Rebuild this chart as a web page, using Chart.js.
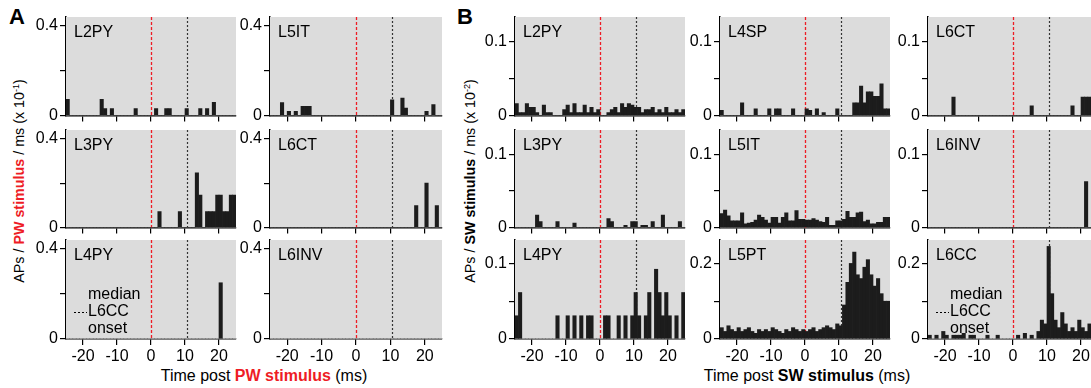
<!DOCTYPE html>
<html>
<head>
<meta charset="utf-8">
<script src="https://cdn.jsdelivr.net/npm/chart.js@4.4.1/dist/chart.umd.min.js"></script>
<style>
  body { margin:0; width:1091px; height:388px; overflow:hidden; background:#fff; position:relative;
         font-family:"Liberation Sans", Arial, sans-serif; color:#000; }
  canvas { position:absolute; }
  .big { position:absolute; font-size:22px; font-weight:bold; }
  .ytitle { position:absolute; white-space:nowrap; font-size:14.3px; transform:translate(-50%,-50%) rotate(-90deg); }
  .xtitle { position:absolute; white-space:nowrap; font-size:16px; transform:translate(-50%,-50%); }
  .red { color:#ee1c25; font-weight:bold; }
  sup { font-size:9px; }
</style>
</head>
<body>

<div class="big" style="left:9px;top:4px">A</div>
<div class="big" style="left:457px;top:4px">B</div>
<div class="ytitle" style="left:19px;top:181px">APs / <span class="red">PW stimulus</span> / ms (x 10<sup>-1</sup>)</div>
<div class="ytitle" style="left:470px;top:181px">APs / <b>SW stimulus</b> / ms (x 10<sup>-2</sup>)</div>
<div class="xtitle" style="left:264px;top:376px">Time post <span class="red">PW stimulus</span> (ms)</div>
<div class="xtitle" style="left:807px;top:376px">Time post <b>SW stimulus</b> (ms)</div>

<script>
// 1 ms bins, left edges
const binStart = [-25,-24,-23,-22,-21,-20,-19,-18,-17,-16,-15,-14,-13,-12,-11,-10,-9,-8,-7,-6,-5,-4,-3,-2,-1,
                  0,1,2,3,4,5,6,7,8,9,10,11,12,13,14,15,16,17,18,19,20,21,22,23,24];
const xTicks = [-20, -10, 0, 10, 20];
const stimOnset = 0;
const l6ccOnset = 10.5;

// Panel A (PW stimulus)
const a_L2PY = [.072,0,0,0,0,0,0,0,0,0,  .072,.03,0,.03,0,0,0,0,0,0,  .03,0,0,0,0,0,.03,0,0,.03,
                .03,0,0,0,0,.03,0,0,0,.03,  0,.03,0,.058,0,0,0,0,0,0];
const a_L5IT = [0,0,0,.057,0,.018,0,.018,0,.04,  .04,.04,0,0,0,0,0,0,0,0,  0,0,0,0,0,0,0,0,0,0,
                0,0,0,0,0,.07,0,0,.077,.033,  0,0,0,0,0,.018,0,.048,0,0];
const a_L3PY = [0,0,0,0,0,0,0,0,0,0,  0,0,0,0,0,0,0,0,0,0,  0,0,0,0,0,0,0,.072,0,0,
                0,0,0,.072,0,0,0,0,.246,.146,  0,.072,.072,.072,.146,.146,.072,.072,.146,.146];
const a_L6CT = [0,0,0,0,0,0,0,0,0,0,  0,0,0,0,0,0,0,0,0,0,  0,0,0,0,0,0,0,0,0,0,
                0,0,0,0,0,0,0,0,0,0,  0,0,.099,0,0,.2,0,0,.099,0];
const a_L4PY = [0,0,0,0,0,0,0,0,0,0,  0,0,0,0,0,0,0,0,0,0,  0,0,0,0,0,0,0,0,0,0,
                0,0,0,0,0,0,0,0,0,0,  0,0,0,0,0,.25,0,0,0,0];
const a_L6INV = [0,0,0,0,0,0,0,0,0,0,  0,0,0,0,0,0,0,0,0,0,  0,0,0,0,0,0,0,0,0,0,
                 0,0,0,0,0,0,0,0,0,0,  0,0,0,0,0,0,0,0,0,0];

// Panel B (SW stimulus)
const b_L2PY = [.016,.004,.004,.016,.011,.011,.004,0,.014,.004,  .004,0,0,0,.008,.014,.004,.016,.004,.004,
                .014,.004,.011,.004,.008,0,0,.004,.008,.011,  .004,.016,.011,.016,.014,.011,.011,.004,.008,.008,
                .011,.004,.008,.004,.011,.004,.004,.008,.004,.008];
const b_L4SP = [.007,0,0,0,0,0,.017,0,0,0,  .009,0,0,0,.009,0,.009,.009,0,0,  0,.009,0,0,0,.009,.007,0,.009,0,
                .004,0,0,0,.009,0,0,0,0,.017,  .017,.040,.017,.032,.032,.026,.026,.043,.009,.009];
const b_L6CT = [0,0,0,0,0,0,0,.025,0,0,  0,0,0,0,0,0,0,0,0,0,  0,0,0,0,0,0,0,0,0,0,
                .013,0,0,0,0,0,0,0,0,0,  0,0,.013,0,0,.025,.025,.025,.025,.025];
const b_L3PY = [0,0,0,0,0,0,.017,.008,0,0,  0,0,.008,0,0,0,0,.006,0,0,  0,0,0,0,0,0,0,.012,.008,0,
                0,0,.003,0,.008,.008,0,.003,.003,0,  .008,0,0,.017,0,0,0,0,.008,0];
const b_L5IT = [.019,.024,.016,.009,.009,.009,.02,.005,.006,.007,  .01,.017,.014,.01,.006,.014,.014,.006,.014,.02,
                .009,.009,.023,.011,.011,.01,.01,.012,.01,.008,  .007,.014,.003,.003,.009,.009,.011,.022,.014,.014,
                .02,.021,.008,.01,.005,.005,.007,.007,.014,.014];
const b_L6INV = [0,0,0,0,0,0,0,0,0,0,  0,0,0,0,0,0,0,0,0,0,  0,0,0,0,0,0,0,0,0,0,
                 0,0,0,0,0,0,0,0,0,0,  0,0,0,0,0,0,.063,0,0,0];
const b_L4PY = [.031,.062,0,0,0,0,0,0,0,0,  0,0,.031,0,0,.031,0,.031,0,.031,  0,.031,.031,0,0,0,.031,.031,0,0,
                .031,0,.031,0,.031,.062,.031,0,.031,.062,  0,.093,.062,.031,.062,.031,0,.031,0,.062];
const b_L5PT = [.03,.02,.035,.025,.02,.03,.02,.025,.03,.02,  .015,.025,.02,.025,.02,.03,.025,.02,.015,.025,
                .02,.03,.025,.02,.025,.02,.025,.03,.02,.025,  .03,.035,.03,.025,.04,.035,.09,.15,.2,.23,
                .17,.16,.19,.21,.17,.14,.16,.12,.10,.10];
const b_L6CC = [.01,0,.01,0,.02,.01,0,.01,.01,.01,  .015,0,.01,.01,0,0,0,.01,0,0,  .01,0,0,0,0,0,.01,0,.015,0,
                .01,0,.02,.05,.04,.245,.12,.05,.03,.07,  .04,.02,.03,.02,.05,.03,.02,.04,.03,.02];

// layout (pixels)
const colX = { A0: 65.7, A1: 270, B0: 515, B1: 720, B2: 928 };
const colW = { A0: 170, A1: 172, B0: 170, B1: 170, B2: 170 };
const rowY = [17, 130, 240];
const rowH = [100, 99, 99];

const panels = [
  { col:'A0', row:0, name:'L2PY', values:a_L2PY, yMax:.44, yTicks:[0,.2,.4], yLabels:['0','','0.4'] },
  { col:'A1', row:0, name:'L5IT', values:a_L5IT, yMax:.44, yTicks:[0,.2,.4], yLabels:['0','','0.4'] },
  { col:'A0', row:1, name:'L3PY', values:a_L3PY, yMax:.44, yTicks:[0,.2,.4], yLabels:['0','','0.4'] },
  { col:'A1', row:1, name:'L6CT', values:a_L6CT, yMax:.44, yTicks:[0,.2,.4], yLabels:['0','','0.4'] },
  { col:'A0', row:2, name:'L4PY', values:a_L4PY, yMax:.44, yTicks:[0,.2,.4], yLabels:['0','','0.4'], legend:true },
  { col:'A1', row:2, name:'L6INV', values:a_L6INV, yMax:.44, yTicks:[0,.2,.4], yLabels:['0','','0.4'] },
  { col:'B0', row:0, name:'L2PY', values:b_L2PY, yMax:.134, yTicks:[0,.05,.1], yLabels:['0','','0.1'] },
  { col:'B1', row:0, name:'L4SP', values:b_L4SP, yMax:.134, yTicks:[0,.05,.1], yLabels:['0','','0.1'] },
  { col:'B2', row:0, name:'L6CT', values:b_L6CT, yMax:.134, yTicks:[0,.05,.1], yLabels:['0','','0.1'] },
  { col:'B0', row:1, name:'L3PY', values:b_L3PY, yMax:.134, yTicks:[0,.05,.1], yLabels:['0','','0.1'] },
  { col:'B1', row:1, name:'L5IT', values:b_L5IT, yMax:.134, yTicks:[0,.05,.1], yLabels:['0','','0.1'] },
  { col:'B2', row:1, name:'L6INV', values:b_L6INV, yMax:.134, yTicks:[0,.05,.1], yLabels:['0','','0.1'] },
  { col:'B0', row:2, name:'L4PY', values:b_L4PY, yMax:.132, yTicks:[0,.05,.1], yLabels:['0','','0.1'] },
  { col:'B1', row:2, name:'L5PT', values:b_L5PT, yMax:.262, yTicks:[0,.1,.2], yLabels:['0','','0.2'] },
  { col:'B2', row:2, name:'L6CC', values:b_L6CC, yMax:.262, yTicks:[0,.1,.2], yLabels:['0','','0.2'], legend:true }
];

Chart.defaults.font.family = '"Liberation Sans", Arial, sans-serif';
Chart.defaults.font.size = 16;
Chart.defaults.color = '#000';

// gray plot area, stimulus + onset lines, panel name, legend
const panelDeco = {
  id: 'panelDeco',
  beforeDatasetsDraw(chart, args, opts) {
    const { ctx, chartArea: a, scales } = chart;
    ctx.save();
    ctx.fillStyle = '#dcdcdc';
    ctx.fillRect(a.left, a.top, a.right - a.left, a.bottom - a.top);

    let x0 = Math.round(scales.x.getPixelForValue(stimOnset)) + 0.5;
    ctx.strokeStyle = '#ee1c25';
    ctx.lineWidth = 1.3;
    ctx.setLineDash([3, 2]);
    ctx.beginPath(); ctx.moveTo(x0, a.top); ctx.lineTo(x0, a.bottom); ctx.stroke();

    let x1 = Math.round(scales.x.getPixelForValue(l6ccOnset)) + 0.5;
    ctx.strokeStyle = '#333';
    ctx.lineWidth = 1.2;
    ctx.setLineDash([2, 2]);
    ctx.beginPath(); ctx.moveTo(x1, a.top); ctx.lineTo(x1, a.bottom); ctx.stroke();
    ctx.restore();
  },
  afterDatasetsDraw(chart, args, opts) {
    const { ctx, chartArea: a } = chart;
    ctx.save();
    ctx.fillStyle = '#000';
    ctx.font = '16px "Liberation Sans", Arial, sans-serif';
    ctx.textBaseline = 'middle';
    ctx.fillText(opts.name, a.left + 8, a.top + 16);
    if (opts.legend) {
      ctx.fillText('median', a.left + 22, a.top + 55);
      ctx.fillText('L6CC', a.left + 22, a.top + 72);
      ctx.fillText('onset', a.left + 22, a.top + 89);
      ctx.strokeStyle = '#000';
      ctx.lineWidth = 1.2;
      ctx.setLineDash([2, 2]);
      ctx.beginPath(); ctx.moveTo(a.left + 8, a.top + 72.5); ctx.lineTo(a.left + 21, a.top + 72.5); ctx.stroke();
    }
    ctx.restore();
  }
};

function makePanel(p) {
  const padL = 45, padT = 12, padR = 10;
  const padB = p.row === 2 ? 30 : 10;
  const w = padL + colW[p.col] + padR;
  const h = padT + rowH[p.row] + padB;
  const cv = document.createElement('canvas');
  cv.width = w; cv.height = h;
  cv.style.width = w + 'px'; cv.style.height = h + 'px';
  cv.style.left = (colX[p.col] - padL) + 'px';
  cv.style.top = (rowY[p.row] - padT) + 'px';
  document.body.appendChild(cv);

  new Chart(cv, {
    type: 'bar',
    data: {
      datasets: [{
        data: binStart.map((b, i) => ({ x: b + 0.5, y: p.values[i] })),
        backgroundColor: '#1c1c1c',
        borderWidth: 0,
        barPercentage: 1,
        categoryPercentage: 1
      }]
    },
    options: {
      responsive: false,
      animation: false,
      layout: { padding: { left: 0, top: padT, right: padR, bottom: 0 } },
      plugins: {
        legend: { display: false },
        tooltip: { enabled: false },
        panelDeco: { name: p.name, legend: !!p.legend }
      },
      scales: {
        x: {
          type: 'linear', min: -25, max: 25, offset: false,
          afterBuildTicks: s => { s.ticks = xTicks.map(v => ({ value: v })); },
          afterFit: s => { s.height = padB; },
          ticks: { display: p.row === 2, padding: 2, maxRotation: 0, autoSkip: false },
          grid: { drawOnChartArea: false, offset: false, tickLength: 6, color: '#000', lineWidth: 1.2 },
          border: { color: '#000', width: 1.5 }
        },
        y: {
          min: 0, max: p.yMax,
          afterBuildTicks: s => { s.ticks = p.yTicks.map(v => ({ value: v })); },
          afterFit: s => { s.width = padL; },
          ticks: { callback: (v, i) => p.yLabels[i], padding: 2, autoSkip: false },
          grid: { drawOnChartArea: false, tickLength: 6, color: '#000', lineWidth: 1.2 },
          border: { color: '#000', width: 1.5 }
        }
      }
    },
    plugins: [panelDeco]
  });
}

panels.forEach(makePanel);
</script>
</body>
</html>
